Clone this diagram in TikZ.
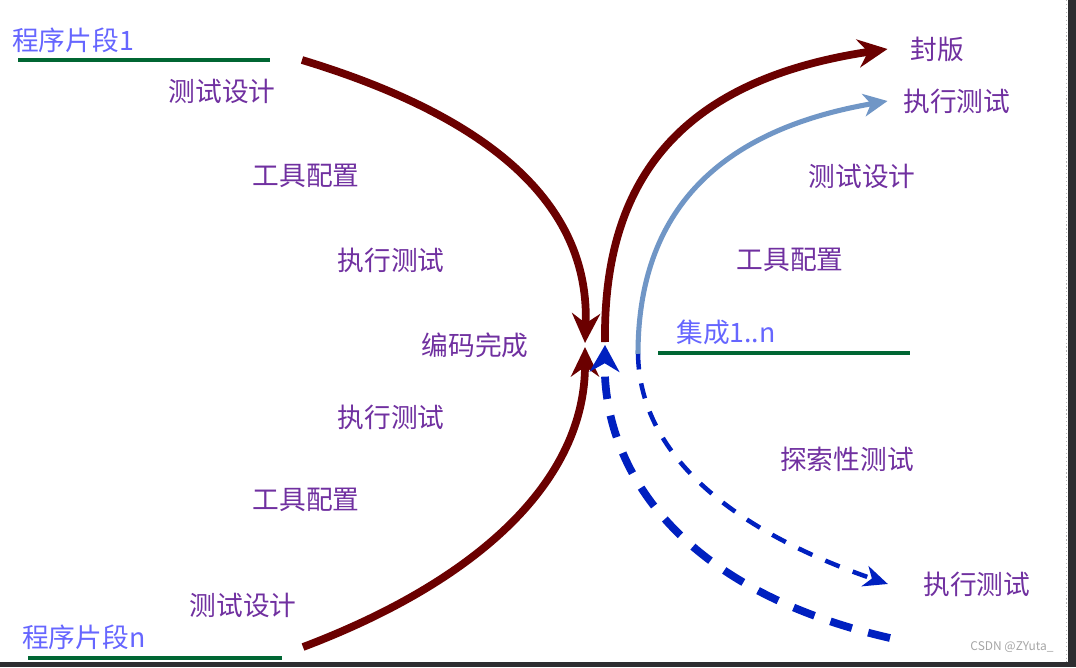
\documentclass[tikz,border=0pt]{standalone}
\usepackage{fontspec}
\setmainfont{Noto Sans CJK SC}
\usetikzlibrary{arrows.meta}

\definecolor{codered}{RGB}{107,0,0}
\definecolor{mergeblue}{RGB}{112,150,198}
\definecolor{explblue}{RGB}{0,32,192}
\definecolor{phasepurple}{RGB}{112,48,160}
\definecolor{segblue}{RGB}{102,102,255}
\definecolor{trackgreen}{RGB}{0,102,51}
\definecolor{framegray}{RGB}{45,45,48}

\begin{document}
\begin{tikzpicture}[x=0.025cm,y=-0.025cm,
        every node/.style={inner sep=0pt,font=\fontsize{19pt}{23pt}\selectfont},
        phase/.style={text=phasepurple},
        segment/.style={text=segblue},
        track/.style={draw=trackgreen,line width=3.5pt},
        flow/.style={draw=codered,line width=5.5pt,-{Stealth[length=21pt,width=20pt,inset=7pt]}},
        merge/.style={draw=mergeblue,line width=3.6pt,-{Stealth[length=17pt,width=16pt,inset=5pt]}},
        explore/.style={draw=explblue,line width=5.5pt,dash pattern=on 16pt off 12pt,-{Stealth[length=19pt,width=21pt,inset=6pt]}},
        probe/.style={draw=explblue,line width=3.2pt,dash pattern=on 11pt off 10pt,-{Stealth[length=17pt,width=15pt,inset=5pt]}}]

    \fill[white] (0,0) rectangle (1076,667);
    \useasboundingbox (0,0) rectangle (1076,667);

    % screen frame
    \fill[framegray] (1068,0) rectangle (1076,667);
    \fill[framegray] (0,662) rectangle (1076,667);
    \draw[gray!60,dotted,line width=0.8pt] (1066.5,0) -- (1066.5,662);

    % code segments, left side
    \node[segment,anchor=west] (seg1) at (12,40) {程序片段1};
    \coordinate (t1a) at (18,60);
    \coordinate (t1b) at (270,60);
    \draw[track] (t1a) -- (t1b);

    \node[segment,anchor=west] (segn) at (22,637) {程序片段n};
    \coordinate (tna) at (28,658);
    \coordinate (tnb) at (282,658);
    \draw[track] (tna) -- (tnb);

    \node[phase] (des1) at (222,91)  {测试设计};
    \node[phase] (cfg1) at (306,176) {工具配置};
    \node[phase] (run1) at (391,260) {执行测试};
    \node[phase] (done) at (475,345) {编码完成};
    \node[phase] (run2) at (391,417) {执行测试};
    \node[phase] (cfg2) at (306,500) {工具配置};
    \node[phase] (des2) at (243,605) {测试设计};

    % integration, right side
    \node[segment] (int) at (726,332) {集成1..n};
    \coordinate (tia) at (658,353);
    \coordinate (tib) at (910,353);
    \draw[track] (tia) -- (tib);

    \node[phase,anchor=west] (seal) at (910,49)  {封版};
    \node[phase,anchor=west] (run3) at (903,101) {执行测试};
    \node[phase] (des3) at (862,176) {测试设计};
    \node[phase] (cfg3) at (790,260) {工具配置};
    \node[phase] (expl) at (847,459) {探索性测试};
    \node[phase,anchor=west] (run4) at (923,584) {执行测试};

    \node[text=gray!70,font=\fontsize{8.5pt}{10pt}\selectfont] (mark) at (1012,647) {CSDN @ZYuta\_};

    % connector ends
    \coordinate (a1) at (302,60);
    \coordinate (a2) at (303,647);
    \coordinate (m1) at (585,343);
    \coordinate (m2) at (585,347);
    \coordinate (b1) at (605,342);
    \coordinate (b2) at (638,354);
    \coordinate (e1) at (890,638);
    \coordinate (e2) at (605,345);

    \draw[flow] (a1) .. controls (500,120) and (590,210) .. (m1);
    \draw[flow] (a2) .. controls (480,580) and (585,480) .. (m2);
    \draw[flow] (b1) .. controls (603,180) and (680,80) .. ([xshift=-16pt]seal.west);
    \draw[merge] (b2) .. controls (638,210) and (720,130) .. ([xshift=-11pt]run3.west);
    \draw[probe] (b2) .. controls (640,470) and (760,540) .. ([xshift=-25pt]run4.west);
    \draw[explore] (e1) .. controls (680,590) and (603,470) .. (e2);

\end{tikzpicture}
\end{document}
